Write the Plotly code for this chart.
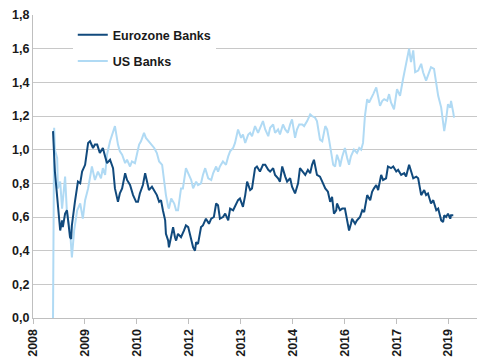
import plotly.graph_objects as go

# Decimal-year positions (Excel category-style axis) and ratio values
euro_t = [2008.53, 2008.58, 2008.64, 2008.66, 2008.72, 2008.77, 2008.79, 2008.85, 2008.90, 2008.93,
          2008.98, 2009.01, 2009.03, 2009.11, 2009.17, 2009.19, 2009.25, 2009.30, 2009.38, 2009.46,
          2009.51, 2009.59, 2009.64, 2009.70, 2009.77, 2009.85, 2009.91, 2009.96, 2010.04, 2010.12,
          2010.17, 2010.25, 2010.30, 2010.36, 2010.44, 2010.49, 2010.57, 2010.65, 2010.73, 2010.78,
          2010.83, 2010.91, 2010.97, 2011.02, 2011.07, 2011.15, 2011.21, 2011.28, 2011.34, 2011.39,
          2011.44, 2011.50, 2011.52, 2011.58, 2011.60, 2011.66, 2011.71, 2011.76, 2011.79, 2011.84,
          2011.92, 2012.00, 2012.05, 2012.11, 2012.16, 2012.21, 2012.24, 2012.29, 2012.32, 2012.37,
          2012.45, 2012.50, 2012.58, 2012.66, 2012.72, 2012.79, 2012.85, 2012.90, 2012.95, 2013.03,
          2013.09, 2013.17, 2013.22, 2013.30, 2013.35, 2013.43, 2013.48, 2013.56, 2013.62, 2013.67,
          2013.75, 2013.80, 2013.88, 2013.93, 2014.01, 2014.09, 2014.15, 2014.23, 2014.28, 2014.36,
          2014.41, 2014.49, 2014.54, 2014.60, 2014.68, 2014.73, 2014.81, 2014.86, 2014.94, 2015.02,
          2015.07, 2015.15, 2015.21, 2015.28, 2015.34, 2015.39, 2015.44, 2015.52, 2015.60, 2015.66,
          2015.74, 2015.81, 2015.87, 2015.92, 2015.97, 2016.03, 2016.05, 2016.13, 2016.19, 2016.26,
          2016.32, 2016.37, 2016.42, 2016.45, 2016.53, 2016.58, 2016.66, 2016.72, 2016.77, 2016.85,
          2016.93, 2016.98, 2017.03, 2017.09, 2017.14, 2017.22, 2017.27, 2017.35, 2017.40, 2017.48,
          2017.54, 2017.62, 2017.67, 2017.75, 2017.83, 2017.88, 2017.96, 2018.01, 2018.07, 2018.15,
          2018.20, 2018.28, 2018.36, 2018.41, 2018.46, 2018.54, 2018.60, 2018.68, 2018.73, 2018.81,
          2018.86, 2018.89, 2018.94, 2018.99, 2019.05, 2019.07, 2019.13]
euro_v = [1.11, 0.87, 0.72, 0.68, 0.52, 0.58, 0.54, 0.62, 0.64, 0.58,
          0.48, 0.47, 0.55, 0.69, 0.77, 0.81, 0.80, 0.87, 0.91, 1.04,
          1.05, 1.01, 1.03, 1.03, 0.98, 1.01, 0.96, 0.92, 0.94, 0.89,
          0.77, 0.69, 0.74, 0.77, 0.86, 0.82, 0.79, 0.73, 0.69, 0.69,
          0.74, 0.79, 0.86, 0.80, 0.76, 0.78, 0.76, 0.73, 0.69, 0.70,
          0.64, 0.58, 0.50, 0.46, 0.42, 0.50, 0.54, 0.48, 0.46, 0.50,
          0.48, 0.52, 0.55, 0.54, 0.50, 0.45, 0.42, 0.40, 0.45, 0.44,
          0.54, 0.55, 0.59, 0.56, 0.59, 0.60, 0.68, 0.67, 0.59, 0.60,
          0.62, 0.58, 0.65, 0.64, 0.66, 0.70, 0.71, 0.66, 0.73, 0.81,
          0.76, 0.77, 0.89, 0.90, 0.87, 0.91, 0.91, 0.88, 0.87, 0.89,
          0.85, 0.83, 0.81, 0.90, 0.84, 0.81, 0.83, 0.78, 0.74, 0.80,
          0.89, 0.87, 0.85, 0.88, 0.86, 0.91, 0.94, 0.85, 0.84, 0.81,
          0.77, 0.75, 0.69, 0.72, 0.62, 0.64, 0.68, 0.64, 0.65, 0.65,
          0.58, 0.52, 0.56, 0.59, 0.56, 0.58, 0.60, 0.64, 0.63, 0.73,
          0.70, 0.75, 0.77, 0.79, 0.76, 0.85, 0.82, 0.83, 0.90, 0.89,
          0.90, 0.87, 0.88, 0.85, 0.86, 0.84, 0.91, 0.87, 0.83, 0.84,
          0.83, 0.73, 0.76, 0.73, 0.74, 0.68, 0.70, 0.64, 0.65, 0.58,
          0.57, 0.61, 0.60, 0.62, 0.59, 0.61, 0.61]

us_t = [2008.53, 2008.56, 2008.58, 2008.64, 2008.66, 2008.72, 2008.77, 2008.79, 2008.85, 2008.90,
        2008.95, 2008.98, 2009.03, 2009.09, 2009.17, 2009.25, 2009.32, 2009.38, 2009.46, 2009.51,
        2009.56, 2009.64, 2009.72, 2009.80, 2009.85, 2009.91, 2009.96, 2010.04, 2010.12, 2010.17,
        2010.25, 2010.30, 2010.36, 2010.44, 2010.49, 2010.57, 2010.62, 2010.70, 2010.75, 2010.81,
        2010.86, 2010.94, 2010.99, 2011.07, 2011.13, 2011.21, 2011.28, 2011.34, 2011.42, 2011.44,
        2011.50, 2011.52, 2011.58, 2011.60, 2011.66, 2011.74, 2011.79, 2011.84, 2011.92, 2011.97,
        2012.05, 2012.13, 2012.19, 2012.24, 2012.32, 2012.37, 2012.45, 2012.50, 2012.56, 2012.64,
        2012.72, 2012.77, 2012.85, 2012.90, 2012.95, 2013.03, 2013.11, 2013.17, 2013.22, 2013.30,
        2013.35, 2013.43, 2013.51, 2013.56, 2013.62, 2013.70, 2013.75, 2013.80, 2013.88, 2013.96,
        2014.01, 2014.09, 2014.15, 2014.23, 2014.28, 2014.36, 2014.41, 2014.49, 2014.54, 2014.62,
        2014.68, 2014.75, 2014.81, 2014.86, 2014.94, 2014.99, 2015.05, 2015.13, 2015.18, 2015.26,
        2015.34, 2015.39, 2015.47, 2015.52, 2015.60, 2015.66, 2015.74, 2015.79, 2015.84, 2015.89,
        2015.95, 2016.00, 2016.05, 2016.11, 2016.13, 2016.19, 2016.26, 2016.32, 2016.37, 2016.42,
        2016.50, 2016.58, 2016.64, 2016.69, 2016.74, 2016.79, 2016.85, 2016.90, 2016.95, 2017.01,
        2017.09, 2017.14, 2017.19, 2017.25, 2017.30, 2017.38, 2017.43, 2017.48, 2017.56, 2017.64,
        2017.72, 2017.80, 2017.88, 2017.93, 2017.96, 2018.01, 2018.07, 2018.12, 2018.20, 2018.28,
        2018.33, 2018.41, 2018.46, 2018.54, 2018.62, 2018.68, 2018.73, 2018.81, 2018.86, 2018.89,
        2018.94, 2018.99, 2019.05, 2019.07, 2019.13, 2019.15]
us_v = [0.00, 1.13, 1.00, 0.95, 0.77, 0.81, 0.65, 0.70, 0.84, 0.62,
        0.55, 0.52, 0.36, 0.52, 0.64, 0.68, 0.59, 0.70, 0.77, 0.83,
        0.90, 0.82, 0.87, 0.83, 0.89, 0.85, 0.97, 1.05, 1.11, 1.14,
        1.03, 0.99, 0.97, 0.92, 0.94, 0.90, 0.93, 0.92, 0.97, 1.03,
        1.05, 1.10, 1.07, 1.05, 1.03, 1.01, 0.98, 0.93, 0.91, 0.87,
        0.78, 0.73, 0.66, 0.65, 0.71, 0.68, 0.64, 0.64, 0.77, 0.77,
        0.89, 0.85, 0.82, 0.77, 0.81, 0.79, 0.80, 0.85, 0.89, 0.83,
        0.82, 0.86, 0.90, 0.87, 0.90, 0.93, 0.91, 0.96, 0.99, 1.01,
        1.04, 1.12, 1.07, 1.09, 1.04, 1.09, 1.10, 1.08, 1.14, 1.10,
        1.13, 1.17, 1.12, 1.08, 1.13, 1.15, 1.10, 1.12, 1.09, 1.15,
        1.12, 1.10, 1.15, 1.18, 1.07, 1.12, 1.15, 1.15, 1.14, 1.17,
        1.21, 1.20, 1.19, 1.17, 1.06, 1.05, 1.14, 1.12, 1.06, 1.00,
        0.91, 0.90, 0.97, 0.93, 0.90, 0.96, 1.01, 0.95, 0.91, 0.96,
        1.00, 0.98, 1.01, 1.00, 1.04, 1.20, 1.30, 1.28, 1.30, 1.33,
        1.37, 1.32, 1.26, 1.29, 1.30, 1.29, 1.33, 1.28, 1.24, 1.36,
        1.32, 1.42, 1.50, 1.57, 1.60, 1.52, 1.59, 1.46, 1.47, 1.51,
        1.46, 1.41, 1.44, 1.49, 1.48, 1.40, 1.32, 1.25, 1.16, 1.11,
        1.18, 1.27, 1.25, 1.29, 1.22, 1.19]

tick_pos = [2008 + i * 1.375 for i in range(9)]
tick_text = ["2008", "2009", "2010", "2012", "2013", "2014", "2016", "2017", "2019"]
y_ticks = [0, 0.2, 0.4, 0.6, 0.8, 1.0, 1.2, 1.4, 1.6, 1.8]

DARK = "#114a7d"
LIGHT = "#b0daf4"
FONT = "Liberation Sans, Arial, sans-serif"

fig = go.Figure()
fig.add_trace(go.Scatter(x=us_t, y=us_v, mode="lines", name="US Banks",
                         line=dict(color=LIGHT, width=2), legendgroup="b", legendrank=2))
fig.add_trace(go.Scatter(x=euro_t, y=euro_v, mode="lines", name="Eurozone Banks",
                         line=dict(color=DARK, width=2), legendgroup="a", legendrank=1))

# page body has an 8px default margin, so the figure is sized to fit the window
fig.update_layout(
    width=477, height=352,
    margin=dict(l=25, r=0, t=7, b=42, autoexpand=False),
    paper_bgcolor="white", plot_bgcolor="white",
    separators=",.",
    font=dict(family=FONT, size=12.5, color="#1a1a1a"),
    showlegend=True,
    legend=dict(x=0.088, y=0.983, xanchor="left", yanchor="top",
                bgcolor="white", borderwidth=0, traceorder="grouped",
                tracegroupgap=7,
                font=dict(family=FONT, size=12.5, color="#1a1a1a", weight="bold")),
    xaxis=dict(range=[2008, 2019.97], tickmode="array", tickvals=tick_pos, ticktext=tick_text,
               tickangle=-90, showgrid=False, zeroline=False, automargin=False,
               showline=True, linecolor="#bfbfbf", linewidth=1,
               ticks="outside", ticklen=5, tickcolor="#bfbfbf", ticklabeloverflow="allow",
               tickfont=dict(family=FONT, size=12.5, color="#1a1a1a", weight="bold")),
    yaxis=dict(range=[0, 1.8], tickmode="array", tickvals=y_ticks, tickformat=".1f",
               showgrid=True, gridcolor="#c8c8c8", gridwidth=1, zeroline=False, automargin=False,
               showline=True, linecolor="#bfbfbf", linewidth=1, ticks="", ticklabeloverflow="allow",
               tickfont=dict(family=FONT, size=12.5, color="#1a1a1a", weight="bold")),
)

fig.write_html("out.html")
